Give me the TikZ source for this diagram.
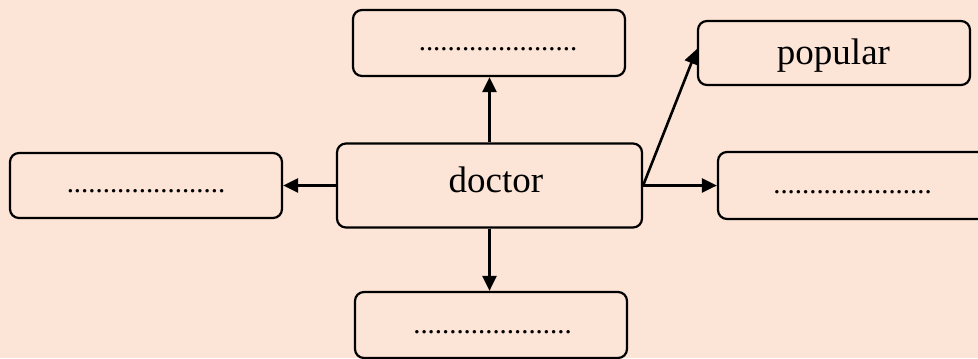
\documentclass[tikz,border=0pt]{standalone}
\usepackage{fontspec}
\setmainfont{Liberation Serif}
\usetikzlibrary{arrows.meta}
\definecolor{bgpeach}{RGB}{252,228,214}
\tikzset{
  box/.style={draw=black, line width=2.2bp, rounded corners=9bp, fill=bgpeach, inner sep=0pt},
  arr/.style={line width=2.6bp, -{Triangle[length=15bp,width=14bp]}},
  bigtxt/.style={inner sep=0pt, anchor=base, font=\fontsize{37bp}{44bp}\selectfont},
  dottxt/.style={inner sep=0pt, anchor=base, font=\fontsize{28.8bp}{34bp}\selectfont},
}
\begin{document}
\begin{tikzpicture}[x=1bp,y=-1bp]
\fill[bgpeach] (0,0) rectangle (978,358);
\useasboundingbox (0,0) rectangle (978,358);
% boxes
\node[box, minimum width=272bp, minimum height=66bp] (top) at (489,43) {};
\node[box, minimum width=305bp, minimum height=84bp] (doctor) at (489.5,185.5) {};
\node[box, minimum width=272bp, minimum height=64bp] (popular) at (834,53) {};
\node[box, minimum width=270bp, minimum height=67bp] (right) at (853,185.5) {};
\node[box, minimum width=272bp, minimum height=65bp] (left) at (146,185.5) {};
\node[box, minimum width=272bp, minimum height=66bp] (bottom) at (491,325) {};
% texts
\node[bigtxt] (tdoctor) at (496,192) {doctor};
\node[bigtxt] (tpopular) at (833.5,64) {popular};
\node[dottxt] (ttop) at (498,50.5) {......................};
\node[dottxt] (tleft) at (146,192.5) {......................};
\node[dottxt] (tright) at (852.5,193) {......................};
\node[dottxt] (tbottom) at (492.5,333.5) {......................};
% connectors
\draw[arr] (doctor.north) -- (doctor.north |- top.south);
\draw[arr] (doctor.south) -- (doctor.south |- bottom.north);
\draw[arr] (doctor.west) -- (doctor.west -| left.east);
\draw[arr] (doctor.east) -- (doctor.east -| right.west);
\draw[arr] (doctor.east) -- ([yshift=4bp]popular.west);
\end{tikzpicture}
\end{document}
